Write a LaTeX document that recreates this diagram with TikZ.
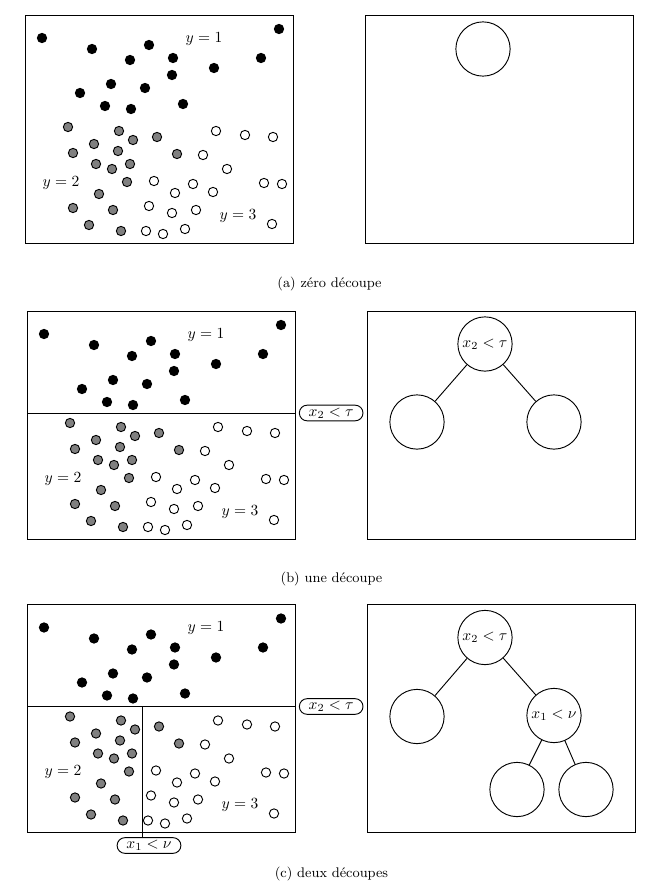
\documentclass[tikz,border=0pt]{standalone}
\usepackage{amsmath}
\usetikzlibrary{positioning}

% the same cloud of points in every panel
\newcommand{\nuage}{%
\foreach \px/\py in {17/23,67/34,124/30,105/45,148/43,147/60,189/53,236/43,254/14,
  55/78,86/69,120/73,80/91,106/94,158/89}
  \draw [noir] (\px,\py) circle [radius=3pt];
\foreach \px/\py in {43/112,94/116,108/125,132/122,69/129,48/138,93/136,152/139,
  71/149,87/154,105/149,102/167,74/179,48/193,88/195,64/210,96/216}
  \draw [gris] (\px,\py) circle [radius=3pt];
\foreach \px/\py in {191/116,220/120,248/122,178/140,202/154,129/166,168/169,150/178,
  188/177,239/168,257/169,124/191,147/198,171/195,247/209,121/216,138/219,160/214}
  \draw [blanc] (\px,\py) circle [radius=3pt];
\node (l1) at (179,24) {$y=1$};
\node (l2) at (36,168) {$y=2$};
\node (l3) at (213,201) {$y=3$};
}

\begin{document}
\begin{tikzpicture}[x=0.645pt, y=-0.645pt, line width=0.6pt,
	noir/.style={draw, fill=black},
	gris/.style={draw, fill=gray},
	blanc/.style={draw, fill=white},
	feuille/.style={draw, circle, minimum size=35pt, inner sep=1pt},
	coupe/.style={draw, rounded corners=5pt, inner xsep=6pt, inner ysep=1.6pt}]
\useasboundingbox (0,0) rectangle (657,894);

% (a)
\begin{scope}[shift={(25,15)}]
\draw (0,0) rectangle (268,228);
\nuage
\draw (340,0) rectangle (608,228);
\node [feuille] (a0) at (458,34) {};
\node (capa) at (304.5,269) {\small (a) z\'ero d\'ecoupe};
\end{scope}

% (b)
\begin{scope}[shift={(27,311)}]
\draw (0,0) rectangle (268,228);
\nuage
\coordinate (bg) at (0,102);
\coordinate (bd) at (268,102);
\draw (bg)--(bd);
\node [coupe, right=2.5pt of bd] (bcoupe) {$x_2<\tau$};
\draw (340,0) rectangle (608,228);
\node [feuille] (b0) at (458,33) {$x_2<\tau$};
\node [feuille] (b1) at (390,111) {};
\node [feuille] (b2) at (527,111) {};
\draw (b0)--(b1);
\draw (b0)--(b2);
\node (capb) at (304.5,268) {\small (b) une d\'ecoupe};
\end{scope}

% (c)
\begin{scope}[shift={(27,604.5)}]
\draw (0,0) rectangle (268,228);
\nuage
\coordinate (cg) at (0,102);
\coordinate (cd) at (268,102);
\coordinate (cv) at (115.5,102);
\draw (cg)--(cd);
\node [coupe, right=2.5pt of cd] (ccoupe) {$x_2<\tau$};
\node [coupe] (vcoupe) at (122,241) {$x_1<\nu$};
\draw (cv)--(cv |- vcoupe.north);
\draw (340,0) rectangle (608,228);
\node [feuille] (c0) at (458,33) {$x_2<\tau$};
\node [feuille] (c1) at (390,112) {};
\node [feuille] (c2) at (527,111) {$x_1<\nu$};
\node [feuille] (c3) at (490,185) {};
\node [feuille] (c4) at (559,185) {};
\draw (c0)--(c1);
\draw (c0)--(c2);
\draw (c2)--(c3);
\draw (c2)--(c4);
\node (capc) at (304.5,269.5) {\small (c) deux d\'ecoupes};
\end{scope}
\end{tikzpicture}
\end{document}
